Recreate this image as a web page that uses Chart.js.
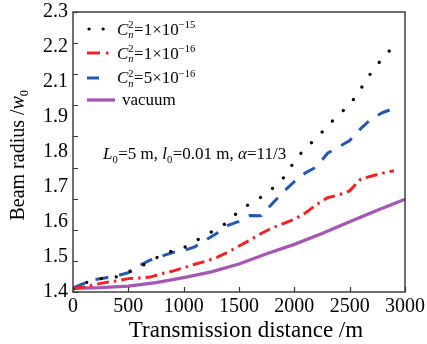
<!DOCTYPE html>
<html><head><meta charset="utf-8">
<script src="https://cdn.jsdelivr.net/npm/chart.js@4.4.1/dist/chart.umd.min.js"></script>
<style>html,body{margin:0;padding:0;background:#fff;}canvas{display:block;}</style>
</head><body>
<canvas id="c" width="427" height="344"></canvas>
<script>
// ---- data ----
const distances = [0,100,200,300,400,500,600,700,800,900,1000,1100,1200,1300,1400,1500,1600,1700,1800,1900,2000,2100,2200,2300,2400,2500,2600,2700,2800,2900];
const cn2_1e15 = [1.410,1.428,1.440,1.446,1.449,1.464,1.480,1.498,1.520,1.532,1.542,1.562,1.584,1.602,1.625,1.661,1.684,1.705,1.732,1.766,1.819,1.864,1.893,1.934,1.970,2.001,2.053,2.108,2.153,2.190];
const cn2_1e16 = [1.412,1.416,1.424,1.431,1.436,1.443,1.445,1.448,1.459,1.467,1.478,1.489,1.499,1.511,1.528,1.548,1.567,1.588,1.606,1.620,1.634,1.654,1.681,1.703,1.712,1.725,1.763,1.773,1.782,1.790];
const cn2_5e16 = [1.413,1.428,1.440,1.446,1.452,1.462,1.485,1.503,1.515,1.527,1.533,1.545,1.567,1.589,1.614,1.627,1.646,1.645,1.684,1.722,1.755,1.783,1.802,1.846,1.866,1.887,1.925,1.958,1.977,1.990];
const vacuumDist = [0,250,500,750,1000,1250,1500,1750,2000,2250,2500,2750,3000];
const vacuum = [1.412,1.414,1.419,1.430,1.446,1.465,1.490,1.523,1.553,1.588,1.626,1.663,1.698];
const xTickValues = [0,500,1000,1500,2000,2500,3000];
const yTickMarks = [1.4,1.5,1.6,1.7,1.8,1.9,2.0,2.1,2.2,2.3];
const yTickLabels = ['1.4','1.5','1.6','1.7','1.8','1.9','2.1','2.2','2.3'];

const SERIF = '"Liberation Serif", "Times New Roman", serif';
const toXY = (xs, ys) => xs.map((x, i) => ({x: x, y: ys[i]}));

const legendItems = [
  {parts:[{t:'C',i:true},{sup:'2',sub:'n'},{t:'=1×10'},{sup:'−15'}]},
  {parts:[{t:'C',i:true},{sup:'2',sub:'n'},{t:'=1×10'},{sup:'−16'}]},
  {parts:[{t:'C',i:true},{sup:'2',sub:'n'},{t:'=5×10'},{sup:'−16'}]},
  {parts:[{t:'vacuum'}]}
];

function richText(ctx, x, y, parts, size, measureOnly) {
  let cx = x;
  for (const p of parts) {
    if (p.sup !== undefined || p.sub !== undefined) {
      const s = size * 0.62;
      ctx.font = s + 'px ' + SERIF;
      let w = 0;
      if (p.sup !== undefined) {
        if (!measureOnly) ctx.fillText(p.sup, cx, y - size * 0.36);
        w = Math.max(w, ctx.measureText(p.sup).width);
      }
      if (p.sub !== undefined) {
        ctx.font = (p.subi !== false ? 'italic ' : '') + s + 'px ' + SERIF;
        if (!measureOnly) ctx.fillText(p.sub, cx, y + size * 0.22);
        w = Math.max(w, ctx.measureText(p.sub).width);
      }
      cx += w + 0.5;
    } else {
      ctx.font = (p.i ? 'italic ' : '') + size + 'px ' + SERIF;
      if (!measureOnly) ctx.fillText(p.t, cx, y);
      cx += ctx.measureText(p.t).width;
    }
  }
  return cx - x;
}

const decorPlugin = {
  id: 'decor',
  afterDatasetsDraw(chart) {
    const ctx = chart.ctx;
    const a = chart.chartArea;
    const xs = chart.scales.x, ys = chart.scales.y;
    ctx.save();
    // frame
    ctx.strokeStyle = '#333';
    ctx.lineWidth = 1.4;
    ctx.setLineDash([]);
    ctx.strokeRect(a.left, a.top, a.right - a.left, a.bottom - a.top);
    // inward tick marks
    ctx.beginPath();
    xTickValues.forEach(v => {
      const px = Math.round(xs.getPixelForValue(v)) + 0.5;
      ctx.moveTo(px, a.bottom); ctx.lineTo(px, a.bottom - 5);
    });
    yTickMarks.forEach(v => {
      const py = Math.round(ys.getPixelForValue(v)) + 0.5;
      ctx.moveTo(a.left, py); ctx.lineTo(a.left + 5, py);
    });
    ctx.lineWidth = 1.2;
    ctx.stroke();

    // legend
    const rows = [29, 53, 78, 100];
    const textX = [117, 117, 117, 122];
    const base = [34.5, 58.5, 83, 104.5];
    chart.data.datasets.forEach((ds, i) => {
      ctx.save();
      ctx.strokeStyle = ds.borderColor;
      ctx.lineWidth = ds.borderWidth;
      ctx.lineCap = ds.borderCapStyle || 'butt';
      ctx.setLineDash(ds.legendDash || ds.borderDash || []);
      ctx.beginPath();
      ctx.moveTo(ds.legendStart || 87, rows[i]);
      ctx.lineTo(ds.legendEnd || 115, rows[i]);
      ctx.stroke();
      ctx.restore();
      ctx.fillStyle = '#000';
      ctx.textBaseline = 'alphabetic';
      ctx.textAlign = 'left';
      richText(ctx, textX[i], base[i], legendItems[i].parts, 17);
    });

    // annotation
    ctx.fillStyle = '#000';
    richText(ctx, 103, 159, [
      {t:'L',i:true},{sub:'0',subi:false},{t:'=5 m, '},
      {t:'l',i:true},{sub:'0',subi:false},{t:'=0.01 m, '},
      {t:'α',i:true},{t:'=11/3'}
    ], 17);

    // x title
    ctx.font = '23px ' + SERIF;
    ctx.textAlign = 'center';
    ctx.fillText('Transmission distance /m', 246, 337);

    // y title (rotated)
    ctx.save();
    ctx.translate(24, 155);
    ctx.rotate(-Math.PI / 2);
    ctx.textAlign = 'left';
    const yParts = [{t:'Beam radius /'},{t:'w',i:true},{sub:'0',subi:false}];
    const w = richText(ctx, 0, 0, yParts, 20, true);
    richText(ctx, -w / 2, 0, yParts, 20);
    ctx.restore();
    ctx.restore();
  }
};

new Chart(document.getElementById('c'), {
  type: 'line',
  data: {
    datasets: [
      {label: 'Cn2=1e-15', data: toXY(distances, cn2_1e15), xAxisID: 'x', yAxisID: 'y',
       borderColor: '#000000', borderWidth: 3.2, borderDash: [0.1, 15], borderCapStyle: 'round',
       legendDash: [0.1, 14], legendStart: 89, legendEnd: 104,
       pointRadius: 0, tension: 0, fill: false},
      {label: 'Cn2=1e-16', data: toXY(distances, cn2_1e16), xAxisID: 'x', yAxisID: 'y',
       borderColor: '#f02222', borderWidth: 3, borderDash: [12, 5, 2.5, 5], borderCapStyle: 'butt',
       legendDash: [13, 6, 2.5, 20], legendStart: 87, legendEnd: 112,
       pointRadius: 0, tension: 0, fill: false},
      {label: 'Cn2=5e-16', data: toXY(distances, cn2_5e16), xAxisID: 'x', yAxisID: 'y',
       borderColor: '#1f59b3', borderWidth: 3, borderDash: [13, 11], borderCapStyle: 'butt',
       legendDash: [12, 20], legendStart: 87, legendEnd: 112,
       pointRadius: 0, tension: 0, fill: false},
      {label: 'vacuum', data: toXY(vacuumDist, vacuum), xAxisID: 'x', yAxisID: 'y',
       borderColor: '#a656b4', borderWidth: 3.3, borderDash: [], borderCapStyle: 'butt',
       legendStart: 87, legendEnd: 115,
       pointRadius: 0, tension: 0, fill: false}
    ]
  },
  options: {
    responsive: false,
    animation: false,
    devicePixelRatio: 1,
    layout: {padding: {top: 12, right: 22, left: 0, bottom: 0}},
    plugins: {legend: {display: false}, tooltip: {enabled: false}},
    scales: {
      x: {
        type: 'linear', min: 0, max: 3000,
        afterBuildTicks: s => { s.ticks = xTickValues.map(v => ({value: v})); },
        ticks: {callback: v => String(v), font: {family: SERIF, size: 20}, color: '#000', padding: 3, maxRotation: 0, autoSkip: false},
        grid: {display: false, drawTicks: false},
        border: {display: false},
        afterFit: s => { s.height = 52; s.paddingLeft = 0; s.paddingRight = 0; }
      },
      y: {type: 'linear', display: false, min: 1.4, max: 2.3},
      yl: {
        type: 'linear', position: 'left', min: 0, max: 8,
        afterBuildTicks: s => { s.ticks = yTickLabels.map((t, i) => ({value: i})); },
        ticks: {callback: v => yTickLabels[v], font: {family: SERIF, size: 20}, color: '#000', padding: 5, autoSkip: false},
        grid: {display: false, drawTicks: false},
        border: {display: false},
        afterFit: s => { s.width = 73; s.paddingTop = 0; s.paddingBottom = 0; }
      }
    }
  },
  plugins: [decorPlugin]
});
</script>
</body></html>
